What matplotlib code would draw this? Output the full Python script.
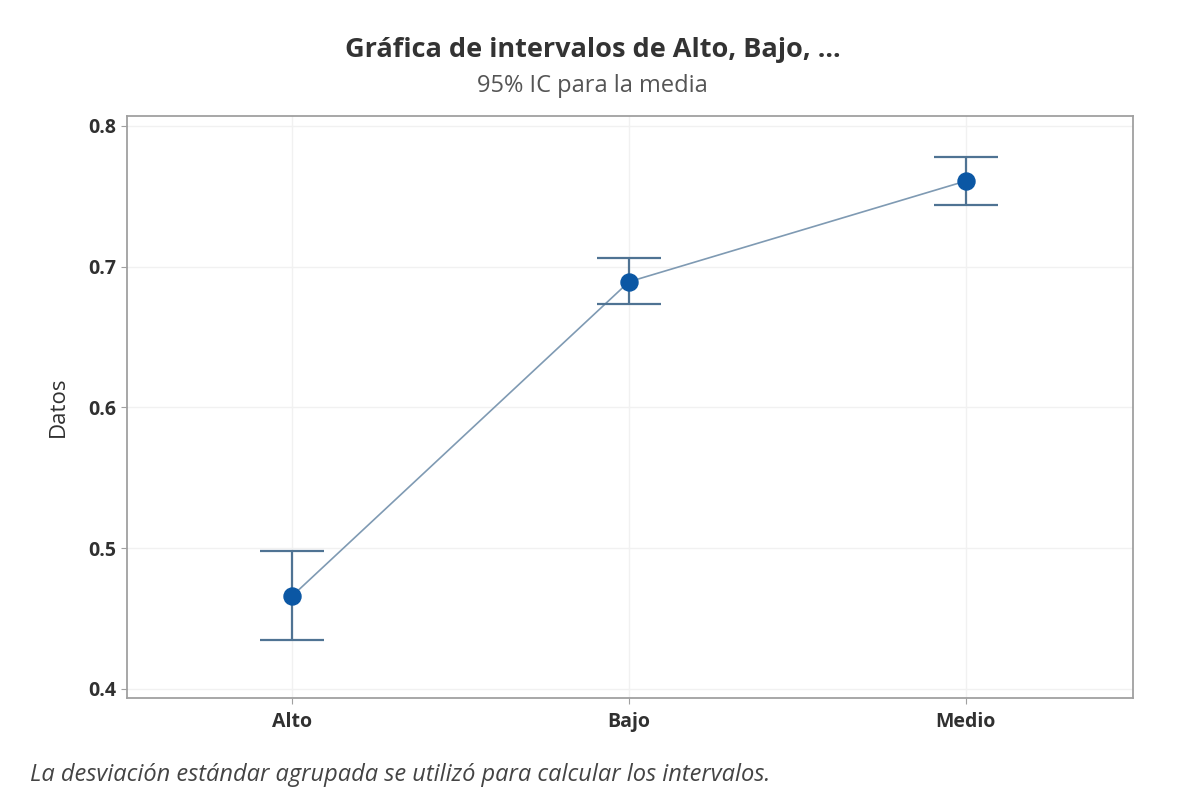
import matplotlib
matplotlib.use("Agg")
import matplotlib.pyplot as plt
import numpy as np

categories = ["Alto", "Bajo", "Medio"]
means = [0.466, 0.6893, 0.7609]
upper = [0.498, 0.7064, 0.7780]
lower = [0.4346, 0.6737, 0.7439]
yticks = [0.4, 0.5, 0.6, 0.7, 0.8]

plt.rcParams['font.family'] = ['Open Sans', 'DejaVu Sans']

fig = plt.figure(figsize=(11.81, 7.90), dpi=100)
ax = fig.add_axes([0.1075, 0.1165, 0.8519, 0.7367])

x = np.arange(len(categories))
m = np.array(means)
yerr = np.vstack([m - np.array(lower), np.array(upper) - m])

ax.plot(x, m, color="#7f9ab3", lw=1.2, zorder=2)
ax.errorbar(x, m, yerr=yerr, fmt="none", ecolor="#4f7393", elinewidth=1.6,
            capsize=23, capthick=1.6, zorder=3)
ax.scatter(x, m, s=150, color="#0b57a4", zorder=4)

ax.set_xlim(-0.49, 2.496)
ax.set_ylim(0.3936, 0.8071)
ax.set_xticks(x)
ax.set_xticklabels(categories)
ax.set_yticks(yticks)
ax.set_yticklabels([f"{v:.1f}" for v in yticks])
ax.grid(True, color="#f1f1f1", lw=1.0)
ax.set_axisbelow(True)
for s in ax.spines.values():
    s.set_color("#a0a0a0")
    s.set_linewidth(1.3)
ax.tick_params(axis="both", colors="#a0a0a0", length=4, labelcolor="#303030",
               labelsize=14)
ax.tick_params(axis="x", pad=6)
for lab in ax.get_xticklabels() + ax.get_yticklabels():
    lab.set_fontweight("bold")

ax.set_ylabel("Datos", fontsize=16, color="#303030", labelpad=14)

fig.text(0.502, 0.928, "Gráfica de intervalos de Alto, Bajo, ...", ha="center",
         va="baseline", fontsize=19.5, fontweight="bold", color="#333333")
fig.text(0.502, 0.884, "95% IC para la media", ha="center", va="baseline",
         fontsize=17, color="#555555")
fig.text(0.025, 0.012, "La desviación estándar agrupada se utilizó para calcular los intervalos.",
         ha="left", va="baseline", fontsize=17, style="italic", color="#444444")

fig.savefig("out.png", dpi=100, facecolor="white")
